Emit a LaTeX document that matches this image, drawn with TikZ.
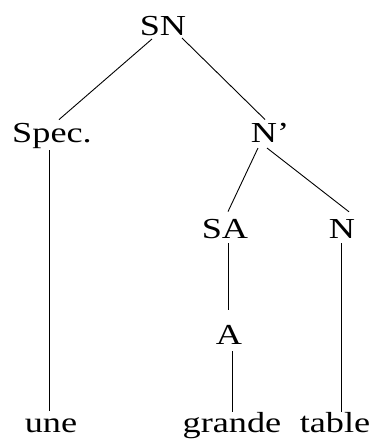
\documentclass[tikz,border=0pt]{standalone}
\usepackage{fontspec}
\setmainfont[FakeStretch=1.25]{Liberation Serif}
\begin{document}
\begin{tikzpicture}[x=1pt,y=1pt,
  lbl/.style={anchor=base,inner sep=0pt,font=\fontsize{29}{32}\selectfont},
  edge/.style={line width=0.9pt,black}]
\useasboundingbox (0,0) rectangle (381,-439);
\node[lbl] (SN) at (163,-35) {SN};
\node[lbl] (Spec) at (52,-142) {Spec.};
\node[lbl] (Nb) at (270,-142) {N’};
\node[lbl] (SA) at (225,-238) {SA};
\node[lbl] (N) at (342,-238) {N};
\node[lbl] (A) at (229,-344) {A};
\node[lbl] (une) at (51,-432) {une};
\node[lbl] (grande) at (232,-432) {grande};
\node[lbl] (table) at (335,-432) {table};
\draw[edge] ([shift={(-11pt,-4pt)}]SN.base) -- ([shift={(7pt,3pt)}]Spec.north);
\draw[edge] ([shift={(19pt,-3pt)}]SN.base) -- ([shift={(-5pt,3pt)}]Nb.north);
\draw[edge] ([shift={(-3pt,-8pt)}]Spec.base) -- ([shift={(-2pt,6.7pt)}]une.north);
\draw[edge] ([shift={(-12pt,-6pt)}]Nb.base) -- ([shift={(3pt,7pt)}]SA.north);
\draw[edge] ([shift={(-3pt,-6pt)}]Nb.base) -- ([shift={(7pt,7pt)}]N.north);
\draw[edge] ([shift={(3pt,-5pt)}]SA.base) -- ([shift={(-1pt,15pt)}]A.north);
\draw[edge] ([shift={(3pt,-7pt)}]A.base) -- ([shift={(0pt,0pt)}]grande.north);
\draw[edge] ([shift={(-1pt,-5pt)}]N.base) -- ([shift={(6pt,0pt)}]table.north);
\end{tikzpicture}
\end{document}
